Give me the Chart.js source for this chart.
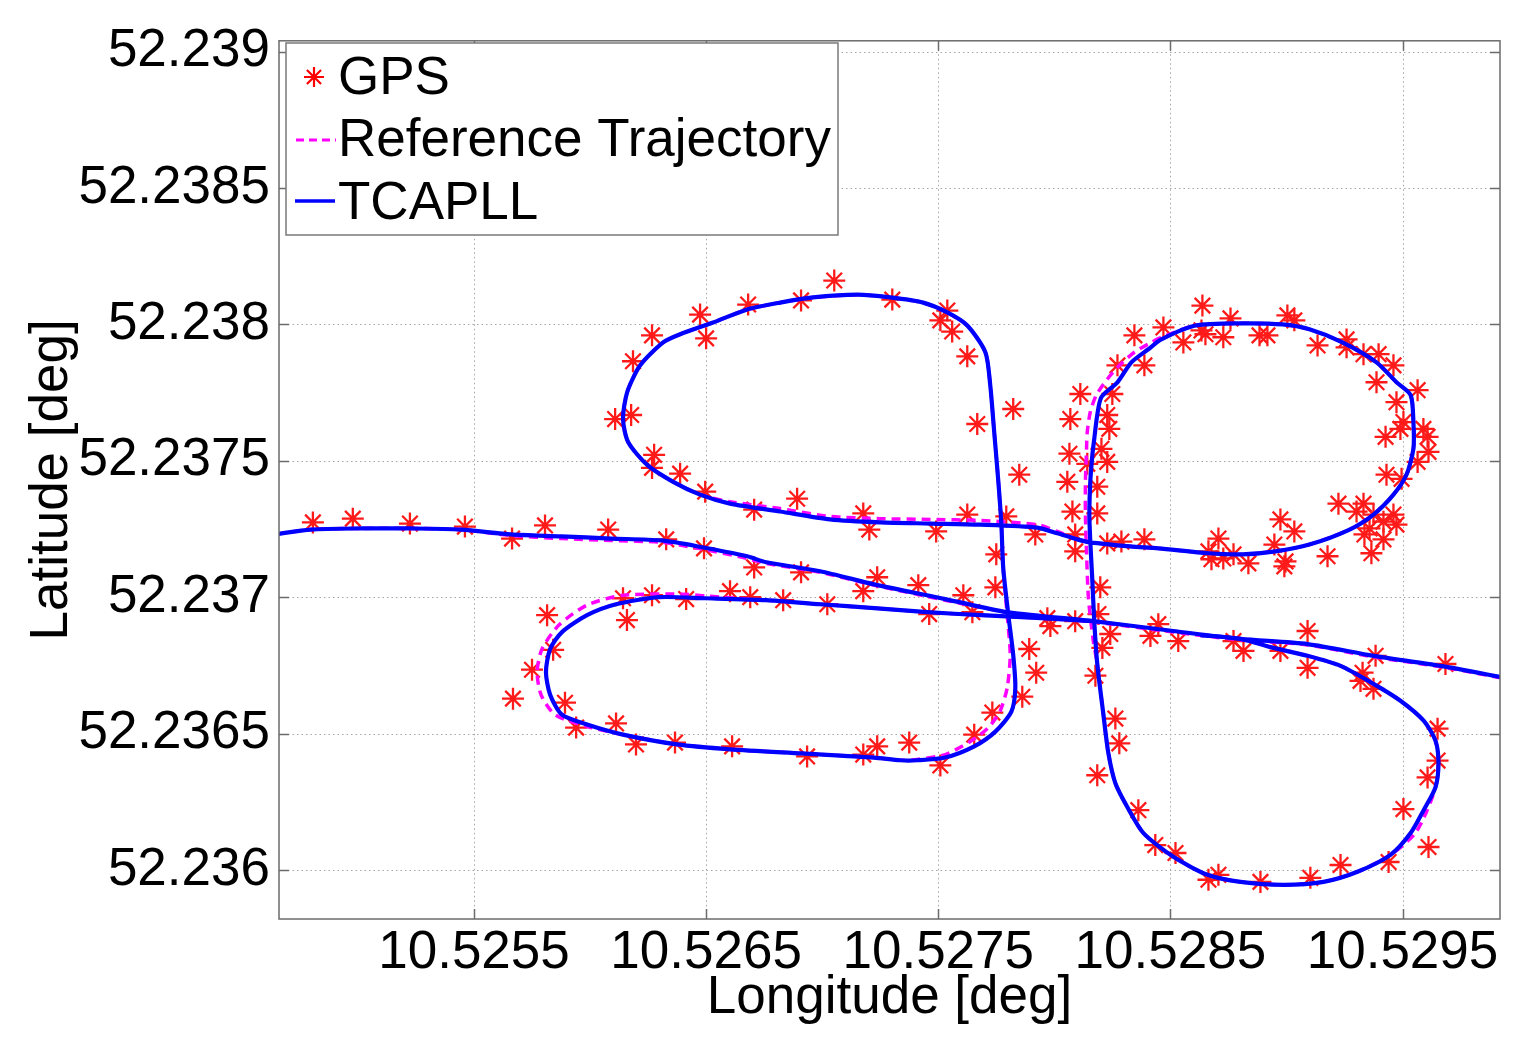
<!DOCTYPE html>
<html lang="en">
<head>
  <meta charset="UTF-8">
  <title>GPS / Reference Trajectory / TCAPLL</title>
  <script src="https://cdn.jsdelivr.net/npm/chart.js"></script>
  <style>
    html, body { margin: 0; padding: 0; background: #fff; }
    #wrap { width: 1527px; height: 1055px; }
  </style>
</head>
<body>
  <div id="wrap"><canvas id="grafica" width="1527" height="1055"></canvas></div>

  <script>
    // ---- axis range and ticks ----
    const xMin = 10.52466, xMax = 10.52992;
    const yMin = 52.23582, yMax = 52.23904;
    const xTicks = [10.5255, 10.5265, 10.5275, 10.5285, 10.5295];
    const xTickLabels = ['10.5255', '10.5265', '10.5275', '10.5285', '10.5295'];
    const yTicks = [52.236, 52.2365, 52.237, 52.2375, 52.238, 52.2385, 52.239];
    const yTickLabels = ['52.236', '52.2365', '52.237', '52.2375', '52.238', '52.2385', '52.239'];

    // ---- TCAPLL estimate [lon, lat] ----
    const tcapllRoad = [
      [10.524642, 52.237230], [10.524797, 52.237248], [10.525013, 52.237252], [10.525228, 52.237252],
      [10.525444, 52.237248], [10.525659, 52.237230], [10.525875, 52.237223], [10.526091, 52.237215],
      [10.526306, 52.237208], [10.526466, 52.237186], [10.526677, 52.237150], [10.526759, 52.237128],
      [10.526991, 52.237095], [10.527224, 52.237047], [10.527530, 52.236993], [10.527793, 52.236945],
      [10.527944, 52.236931], [10.528168, 52.236912], [10.528513, 52.236876], [10.528802, 52.236847],
      [10.529091, 52.236828], [10.529375, 52.236785], [10.529664, 52.236748], [10.529944, 52.236704]
    ];
    const tcapllLoops = [
      [10.528168, 52.236912], [10.527944, 52.236923], [10.527685, 52.236934], [10.527453, 52.236945],
      [10.527224, 52.236960], [10.526991, 52.236974], [10.526759, 52.236989], [10.526500, 52.236996],
      [10.526297, 52.237000], [10.526112, 52.236974], [10.525987, 52.236934], [10.525879, 52.236872],
      [10.525828, 52.236810], [10.525810, 52.236726], [10.525828, 52.236642], [10.525879, 52.236569],
      [10.525987, 52.236533], [10.526142, 52.236496], [10.526375, 52.236460], [10.526603, 52.236442],
      [10.526914, 52.236427], [10.527224, 52.236412], [10.527336, 52.236402], [10.527410, 52.236402],
      [10.527530, 52.236412], [10.527655, 52.236453], [10.527746, 52.236507], [10.527815, 52.236580],
      [10.527832, 52.236668], [10.527823, 52.236788], [10.527802, 52.236934], [10.527780, 52.237106],
      [10.527772, 52.237266], [10.527759, 52.237423], [10.527741, 52.237606], [10.527724, 52.237777],
      [10.527703, 52.237898], [10.527625, 52.237996], [10.527539, 52.238044], [10.527435, 52.238080],
      [10.527293, 52.238099], [10.527151, 52.238109], [10.526961, 52.238099], [10.526819, 52.238080],
      [10.526677, 52.238055], [10.526530, 52.238007], [10.526388, 52.237964], [10.526315, 52.237934],
      [10.526216, 52.237850], [10.526160, 52.237752], [10.526142, 52.237653], [10.526164, 52.237569],
      [10.526246, 52.237485], [10.526358, 52.237423], [10.526474, 52.237376], [10.526603, 52.237343],
      [10.526819, 52.237314], [10.527034, 52.237285], [10.527250, 52.237274], [10.527466, 52.237270],
      [10.527681, 52.237266], [10.527927, 52.237255], [10.528013, 52.237234], [10.528099, 52.237212],
      [10.528155, 52.237201], [10.528328, 52.237186], [10.528448, 52.237179], [10.528664, 52.237161],
      [10.528810, 52.237157], [10.528953, 52.237168], [10.529099, 52.237193], [10.529272, 52.237248],
      [10.529375, 52.237303], [10.529461, 52.237376], [10.529517, 52.237449], [10.529547, 52.237544],
      [10.529547, 52.237642], [10.529535, 52.237741], [10.529474, 52.237788], [10.529388, 52.237861],
      [10.529241, 52.237934], [10.529099, 52.237982], [10.528983, 52.238000], [10.528810, 52.238004],
      [10.528608, 52.237996], [10.528461, 52.237945], [10.528405, 52.237909], [10.528332, 52.237861],
      [10.528272, 52.237788], [10.528203, 52.237734], [10.528185, 52.237668], [10.528172, 52.237580],
      [10.528164, 52.237522], [10.528155, 52.237423], [10.528151, 52.237303], [10.528155, 52.237204],
      [10.528164, 52.237058], [10.528172, 52.236912], [10.528185, 52.236756], [10.528211, 52.236573],
      [10.528233, 52.236427], [10.528263, 52.236318], [10.528315, 52.236230], [10.528384, 52.236135],
      [10.528513, 52.236048], [10.528660, 52.235982], [10.528802, 52.235956], [10.528987, 52.235945],
      [10.529160, 52.235956], [10.529306, 52.235993], [10.529448, 52.236055], [10.529535, 52.236135],
      [10.529591, 52.236219], [10.529642, 52.236303], [10.529655, 52.236391], [10.529642, 52.236474],
      [10.529591, 52.236547], [10.529491, 52.236620], [10.529375, 52.236682], [10.529233, 52.236748],
      [10.529091, 52.236785], [10.528944, 52.236814], [10.528802, 52.236847], [10.528629, 52.236861]
    ];

    // ---- reference trajectory [lon, lat] ----
    const refRoad = [
      [10.524642, 52.237230], [10.524797, 52.237248], [10.525013, 52.237252], [10.525228, 52.237252],
      [10.525444, 52.237248], [10.525659, 52.237226], [10.525875, 52.237215], [10.526091, 52.237208],
      [10.526306, 52.237201], [10.526466, 52.237179], [10.526677, 52.237142], [10.526759, 52.237124],
      [10.526991, 52.237091], [10.527224, 52.237044], [10.527530, 52.236989], [10.527793, 52.236945],
      [10.527944, 52.236927], [10.528168, 52.236909], [10.528513, 52.236872], [10.528802, 52.236843],
      [10.529091, 52.236825], [10.529375, 52.236781], [10.529664, 52.236745], [10.529944, 52.236701]
    ];
    const refLoops = [
      [10.528168, 52.236912], [10.527944, 52.236923], [10.527685, 52.236934], [10.527453, 52.236945],
      [10.527224, 52.236960], [10.526991, 52.236974], [10.526759, 52.236989], [10.526500, 52.237004],
      [10.526397, 52.237011], [10.526142, 52.237007], [10.525987, 52.236971], [10.525866, 52.236898],
      [10.525793, 52.236810], [10.525772, 52.236726], [10.525789, 52.236642], [10.525849, 52.236569],
      [10.525987, 52.236526], [10.526142, 52.236496], [10.526375, 52.236460], [10.526603, 52.236442],
      [10.526914, 52.236427], [10.527224, 52.236412], [10.527336, 52.236402], [10.527409, 52.236405],
      [10.527530, 52.236423], [10.527638, 52.236471], [10.527716, 52.236522], [10.527767, 52.236584],
      [10.527797, 52.236668], [10.527810, 52.236788], [10.527797, 52.236934], [10.527780, 52.237106],
      [10.527772, 52.237266], [10.527759, 52.237423], [10.527741, 52.237606], [10.527724, 52.237777],
      [10.527703, 52.237898], [10.527625, 52.237996], [10.527539, 52.238044], [10.527435, 52.238080],
      [10.527293, 52.238099], [10.527151, 52.238109], [10.526961, 52.238099], [10.526819, 52.238080],
      [10.526677, 52.238055], [10.526530, 52.238007], [10.526388, 52.237964], [10.526315, 52.237934],
      [10.526216, 52.237850], [10.526160, 52.237752], [10.526142, 52.237653], [10.526164, 52.237569],
      [10.526246, 52.237485], [10.526358, 52.237423], [10.526474, 52.237376], [10.526603, 52.237350],
      [10.526819, 52.237325], [10.527034, 52.237296], [10.527250, 52.237288], [10.527466, 52.237285],
      [10.527681, 52.237281], [10.527927, 52.237266], [10.528013, 52.237241], [10.528099, 52.237212],
      [10.528155, 52.237201], [10.528328, 52.237186], [10.528448, 52.237179], [10.528664, 52.237161],
      [10.528810, 52.237157], [10.528953, 52.237168], [10.529099, 52.237193], [10.529272, 52.237248],
      [10.529375, 52.237303], [10.529461, 52.237376], [10.529517, 52.237449], [10.529547, 52.237544],
      [10.529547, 52.237642], [10.529535, 52.237741], [10.529474, 52.237788], [10.529388, 52.237861],
      [10.529241, 52.237934], [10.529099, 52.237982], [10.528983, 52.238000], [10.528810, 52.238004],
      [10.528608, 52.237996], [10.528461, 52.237953], [10.528418, 52.237934], [10.528345, 52.237898],
      [10.528272, 52.237843], [10.528228, 52.237799], [10.528181, 52.237741], [10.528155, 52.237679],
      [10.528142, 52.237606], [10.528138, 52.237522], [10.528134, 52.237423], [10.528134, 52.237303],
      [10.528138, 52.237186], [10.528147, 52.236996], [10.528168, 52.236839], [10.528185, 52.236756],
      [10.528211, 52.236573], [10.528233, 52.236427], [10.528263, 52.236318], [10.528315, 52.236230],
      [10.528384, 52.236135], [10.528513, 52.236048], [10.528660, 52.235982], [10.528802, 52.235956],
      [10.528987, 52.235945], [10.529160, 52.235956], [10.529306, 52.235993], [10.529448, 52.236055],
      [10.529552, 52.236131], [10.529603, 52.236212], [10.529642, 52.236303], [10.529655, 52.236391],
      [10.529642, 52.236474], [10.529591, 52.236547], [10.529491, 52.236620], [10.529375, 52.236682],
      [10.529233, 52.236748], [10.529091, 52.236785], [10.528944, 52.236814], [10.528802, 52.236847],
      [10.528629, 52.236861]
    ];

    // ---- GPS fixes [lon, lat], grouped by area ----
    const gpsWest = [
      [10.524806, 52.237274], [10.524978, 52.237288], [10.525224, 52.237270], [10.525461, 52.237259],
      [10.525664, 52.237215], [10.525806, 52.237263], [10.526078, 52.237248], [10.526328, 52.237212]
    ];
    const gpsLoopNW = [
      [10.527052, 52.238161], [10.526909, 52.238088], [10.526681, 52.238073], [10.526474, 52.238036],
      [10.526500, 52.237949], [10.526267, 52.237960], [10.526185, 52.237865], [10.527302, 52.238091],
      [10.527539, 52.238051], [10.527509, 52.238015], [10.527560, 52.237974], [10.527625, 52.237883],
      [10.527823, 52.237690], [10.527668, 52.237635], [10.527849, 52.237449], [10.526108, 52.237653],
      [10.526177, 52.237668], [10.526276, 52.237522], [10.526267, 52.237474], [10.526388, 52.237453],
      [10.526496, 52.237387], [10.526707, 52.237321], [10.526892, 52.237361], [10.527177, 52.237307],
      [10.527203, 52.237248], [10.527491, 52.237241], [10.527625, 52.237303], [10.527793, 52.237296],
      [10.527750, 52.237157], [10.527918, 52.237230], [10.526491, 52.237179], [10.526707, 52.237109],
      [10.526909, 52.237091], [10.527237, 52.237073]
    ];
    const gpsLoopSW = [
      [10.527414, 52.237044], [10.527746, 52.237036], [10.527177, 52.237022], [10.527608, 52.237007],
      [10.526603, 52.237022], [10.526690, 52.237000], [10.526832, 52.236989], [10.527022, 52.236974],
      [10.526267, 52.237007], [10.526142, 52.236996], [10.526414, 52.236993], [10.526159, 52.236916],
      [10.525815, 52.236934], [10.527461, 52.236938], [10.527647, 52.236945], [10.525841, 52.236807],
      [10.525750, 52.236734], [10.525668, 52.236628], [10.525892, 52.236613], [10.525940, 52.236522],
      [10.526112, 52.236537], [10.526198, 52.236460], [10.526366, 52.236467], [10.526612, 52.236453],
      [10.526935, 52.236416], [10.527177, 52.236423], [10.527237, 52.236453], [10.527375, 52.236467],
      [10.527509, 52.236383], [10.527655, 52.236496], [10.527733, 52.236577], [10.527862, 52.236635],
      [10.527892, 52.236810], [10.527922, 52.236723]
    ];
    const gpsLoopNE = [
      [10.528638, 52.238069], [10.528759, 52.238022], [10.528728, 52.237953], [10.528634, 52.237978],
      [10.528556, 52.237934], [10.528470, 52.237989], [10.528345, 52.237960], [10.528651, 52.237964],
      [10.528884, 52.237960], [10.528918, 52.237960], [10.529004, 52.238033], [10.529034, 52.238015],
      [10.529134, 52.237923], [10.529259, 52.237945], [10.529259, 52.237916], [10.529332, 52.237891],
      [10.529397, 52.237891], [10.529461, 52.237850], [10.529388, 52.237788], [10.529474, 52.237715],
      [10.529565, 52.237759], [10.529504, 52.237642], [10.529491, 52.237617], [10.529590, 52.237617],
      [10.529608, 52.237588], [10.529612, 52.237533], [10.529427, 52.237588], [10.529565, 52.237496],
      [10.529431, 52.237449], [10.529496, 52.237434], [10.529224, 52.237343], [10.529302, 52.237314],
      [10.529332, 52.237343], [10.529375, 52.237303], [10.529461, 52.237303], [10.529474, 52.237266],
      [10.529358, 52.237252], [10.529418, 52.237277], [10.529336, 52.237230], [10.529418, 52.237212],
      [10.529366, 52.237161], [10.529177, 52.237150], [10.528974, 52.237285], [10.529034, 52.237241],
      [10.528948, 52.237193], [10.528996, 52.237131], [10.528991, 52.237113], [10.528836, 52.237124],
      [10.528707, 52.237215], [10.528664, 52.237168], [10.528728, 52.237142], [10.528677, 52.237139],
      [10.528772, 52.237157], [10.528388, 52.237212], [10.528289, 52.237204], [10.528228, 52.237197],
      [10.528090, 52.237168], [10.528090, 52.237230], [10.528078, 52.237314], [10.528185, 52.237307],
      [10.528056, 52.237423], [10.528185, 52.237405], [10.528065, 52.237526], [10.528142, 52.237489],
      [10.528228, 52.237496], [10.528203, 52.237544], [10.528069, 52.237653], [10.528237, 52.237617],
      [10.528228, 52.237668], [10.528112, 52.237745], [10.528250, 52.237745], [10.528272, 52.237850],
      [10.528388, 52.237850]
    ];
    const gpsLoopSE = [
      [10.528198, 52.237036], [10.528190, 52.236938], [10.527970, 52.236923], [10.527983, 52.236894],
      [10.528090, 52.236912], [10.528241, 52.236865], [10.528207, 52.236814], [10.528177, 52.236712],
      [10.528448, 52.236901], [10.528414, 52.236858], [10.528534, 52.236839], [10.528772, 52.236839],
      [10.528815, 52.236803], [10.528974, 52.236803], [10.529091, 52.236876], [10.529091, 52.236741],
      [10.529328, 52.236723], [10.529319, 52.236693], [10.529375, 52.236664], [10.529384, 52.236785],
      [10.529685, 52.236755], [10.528263, 52.236555], [10.528280, 52.236464], [10.528185, 52.236347],
      [10.528362, 52.236219], [10.528435, 52.236091], [10.528522, 52.236062], [10.528664, 52.235964],
      [10.528707, 52.235982], [10.528888, 52.235956], [10.529103, 52.235971], [10.529233, 52.236018],
      [10.529440, 52.236029], [10.529612, 52.236084], [10.529504, 52.236223], [10.529608, 52.236339],
      [10.529651, 52.236401], [10.529651, 52.236518]
    ];

    const FONT = '"Liberation Sans", Arial, Helvetica, sans-serif';
    const FSIZE = 53;
    const toXY = arr => arr.map(p => ({ x: p[0], y: p[1] }));
    const gpsAll = [].concat(gpsWest, gpsLoopNW, gpsLoopSW, gpsLoopNE, gpsLoopSE);

    // draws an asterisk like the MATLAB '*' marker
    function asterisk(ctx, cx, cy, r) {
      ctx.beginPath();
      for (let k = 0; k < 4; k++) {
        const a = k * Math.PI / 4;
        ctx.moveTo(cx - r * Math.cos(a), cy - r * Math.sin(a));
        ctx.lineTo(cx + r * Math.cos(a), cy + r * Math.sin(a));
      }
      ctx.stroke();
    }

    // grid, box, inward ticks and legend in MATLAB style
    const matlabAxes = {
      id: 'matlabAxes',
      beforeDatasetsDraw(chart) {
        const { ctx, chartArea: a, scales: { x, y } } = chart;
        ctx.save();
        ctx.strokeStyle = '#a6a6a6';
        ctx.lineWidth = 1;
        ctx.setLineDash([1.5, 3]);
        ctx.beginPath();
        xTicks.forEach(v => {
          const px = Math.round(x.getPixelForValue(v)) + 0.5;
          ctx.moveTo(px, a.top); ctx.lineTo(px, a.bottom);
        });
        yTicks.forEach(v => {
          const py = Math.round(y.getPixelForValue(v)) + 0.5;
          ctx.moveTo(a.left, py); ctx.lineTo(a.right, py);
        });
        ctx.stroke();
        ctx.restore();
      },
      afterDraw(chart) {
        const { ctx, chartArea: a, scales: { x, y } } = chart;
        ctx.save();
        ctx.strokeStyle = '#6b6b6b';
        ctx.lineWidth = 1.5;
        ctx.strokeRect(a.left, a.top, a.right - a.left, a.bottom - a.top);
        const tl = 10;
        ctx.beginPath();
        xTicks.forEach(v => {
          const px = Math.round(x.getPixelForValue(v)) + 0.5;
          ctx.moveTo(px, a.bottom); ctx.lineTo(px, a.bottom - tl);
          ctx.moveTo(px, a.top); ctx.lineTo(px, a.top + tl);
        });
        yTicks.forEach(v => {
          const py = Math.round(y.getPixelForValue(v)) + 0.5;
          ctx.moveTo(a.left, py); ctx.lineTo(a.left + tl, py);
          ctx.moveTo(a.right, py); ctx.lineTo(a.right - tl, py);
        });
        ctx.stroke();

        // legend box
        const lx = 286, ly = 43, lw = 552, lh = 192;
        ctx.fillStyle = '#fff';
        ctx.fillRect(lx, ly, lw, lh);
        ctx.strokeStyle = '#7a7a7a';
        ctx.lineWidth = 1.5;
        ctx.strokeRect(lx, ly, lw, lh);

        ctx.strokeStyle = '#ff0000';
        ctx.lineWidth = 2.2;
        asterisk(ctx, 314, 77, 10);

        ctx.strokeStyle = '#ff00ff';
        ctx.lineWidth = 3;
        ctx.setLineDash([8, 5]);
        ctx.beginPath(); ctx.moveTo(296, 140); ctx.lineTo(336, 140); ctx.stroke();
        ctx.setLineDash([]);

        ctx.strokeStyle = '#0000ff';
        ctx.lineWidth = 3.5;
        ctx.beginPath(); ctx.moveTo(295, 201); ctx.lineTo(335, 201); ctx.stroke();

        ctx.fillStyle = '#000';
        ctx.font = FSIZE + 'px ' + FONT;
        ctx.textBaseline = 'middle';
        ctx.textAlign = 'left';
        ctx.fillText('GPS', 338, 79);
        ctx.fillText('Reference Trajectory', 338, 141);
        ctx.fillText('TCAPLL', 338, 204);
        ctx.restore();
      }
    };

    const lineStyle = (data, color, width, dash, order) => ({
      data: toXY(data),
      showLine: true,
      borderColor: color,
      borderWidth: width,
      borderDash: dash,
      pointRadius: 0,
      tension: 0.25,
      fill: false,
      order: order
    });

    new Chart(document.getElementById('grafica'), {
      type: 'scatter',
      data: {
        datasets: [
          lineStyle(tcapllRoad, '#0000ff', 4.2, [], 0),
          lineStyle(tcapllLoops, '#0000ff', 4.2, [], 0),
          lineStyle(refRoad, '#ff00ff', 3.5, [9, 6], 1),
          lineStyle(refLoops, '#ff00ff', 3.5, [9, 6], 1),
          {
            label: 'GPS',
            data: toXY(gpsAll),
            pointStyle: 'star',
            pointRadius: 11,
            pointBorderColor: '#ff1a1a',
            pointBackgroundColor: '#ff1a1a',
            pointBorderWidth: 2.3,
            showLine: false,
            order: 2
          }
        ]
      },
      options: {
        responsive: false,
        animation: false,
        events: [],
        layout: { padding: { left: 0, right: 27, top: 37, bottom: 0 } },
        plugins: { legend: { display: false }, tooltip: { enabled: false } },
        scales: {
          x: {
            type: 'linear',
            min: xMin, max: xMax,
            afterBuildTicks: s => { s.ticks = xTicks.map(v => ({ value: v })); },
            afterFit: s => { s.height = 136; },
            ticks: {
              callback: (v, i) => xTickLabels[i],
              font: { family: FONT, size: FSIZE },
              color: '#000',
              padding: 3,
              autoSkip: false,
              maxRotation: 0
            },
            grid: { display: false, drawTicks: false },
            border: { display: false },
            title: {
              display: true,
              text: 'Longitude [deg]',
              font: { family: FONT, size: FSIZE },
              color: '#000',
              padding: { top: 0, bottom: 25 }
            }
          },
          y: {
            type: 'linear',
            min: yMin, max: yMax,
            afterBuildTicks: s => { s.ticks = yTicks.map(v => ({ value: v })); },
            afterFit: s => { s.width = 279; },
            ticks: {
              callback: (v, i) => yTickLabels[i],
              font: { family: FONT, size: FSIZE },
              color: '#000',
              padding: 9,
              autoSkip: false
            },
            grid: { display: false, drawTicks: false },
            border: { display: false },
            title: {
              display: true,
              text: 'Latitude [deg]',
              font: { family: FONT, size: FSIZE },
              color: '#000',
              padding: { top: 21, bottom: 0 }
            }
          }
        }
      },
      plugins: [matlabAxes]
    });
  </script>
</body>
</html>
